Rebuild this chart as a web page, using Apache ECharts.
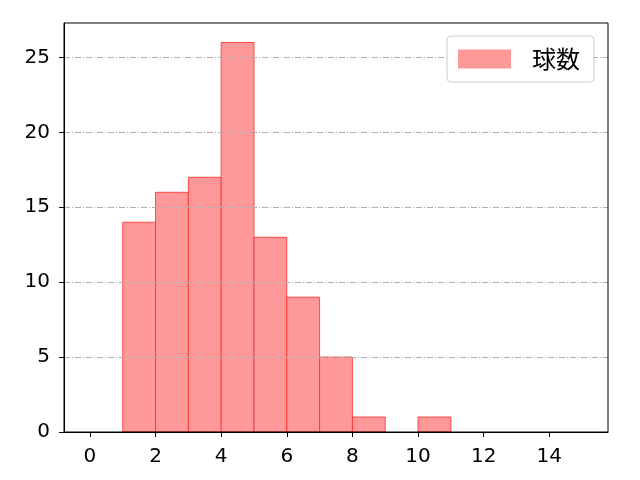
<!DOCTYPE html>
<html><head><meta charset="utf-8">
<script src="https://cdn.jsdelivr.net/npm/echarts@6/dist/echarts.min.js"></script>
<style>html,body{margin:0;padding:0;background:#fff}#c{width:640px;height:480px}</style>
</head><body><div id="c"></div>
<script>
const binStarts = [1, 2, 3, 4, 5, 6, 7, 8, 9, 10];
const counts = [14, 16, 17, 26, 13, 9, 5, 1, 0, 1];
const binWidth = 1;
const xTicks = [0, 2, 4, 6, 8, 10, 12, 14];
const yTicks = [0, 5, 10, 15, 20, 25];
const seriesName = '球数';

const tickFont = '"DejaVu Sans", sans-serif';
const cjkFont = '"Noto Sans CJK JP", "DejaVu Sans", sans-serif';
const chart = echarts.init(document.getElementById('c'));
const data = binStarts.map((s, i) => [s, counts[i]]);
chart.setOption({
  animation: false,
  grid: {left: 64, right: 32, top: 23, bottom: 48, show: true, borderColor: '#000', borderWidth: 1, backgroundColor: 'transparent', z: 6},
  legend: {
    data: [seriesName], left: 447, top: 36, orient: 'vertical',
    backgroundColor: '#fff', borderColor: '#cccccc', borderWidth: 1, borderRadius: 4,
    padding: [11, 14, 11, 11], itemWidth: 53, itemHeight: 19, itemGap: 8,
    icon: 'rect',
    textStyle: {fontSize: 24, color: '#000', fontFamily: cjkFont, padding: [0, 0, 0, 16]}, z: 10
  },
  xAxis: {
    type: 'value', min: -0.79, max: 15.79, z: 5,
    axisLine: {show: true, onZero: false, lineStyle: {color: '#000', width: 1}},
    axisTick: {show: true, length: 5, customValues: xTicks, lineStyle: {color: '#000'}},
    axisLabel: {customValues: xTicks, fontSize: 20, color: '#000', fontFamily: tickFont, margin: 15},
    splitLine: {show: false}
  },
  yAxis: {
    type: 'value', min: 0, max: 27.3, interval: 5, z: 4,
    axisLine: {show: true, onZero: false, lineStyle: {color: '#000', width: 1}},
    axisTick: {show: true, length: 5, customValues: yTicks, lineStyle: {color: '#000'}},
    axisLabel: {customValues: yTicks, fontSize: 20, color: '#000', fontFamily: tickFont, margin: 14},
    splitLine: {show: true, lineStyle: {color: '#b0b0b0', width: 1, type: [6, 2, 1, 2]}}
  },
  series: [{
    name: seriesName, type: 'custom', z: 2,
    itemStyle: {color: '#ff9999', borderColor: 'rgba(255,40,40,0.8)'},
    data: data,
    renderItem: function (params, api) {
      const x = api.value(0), y = api.value(1);
      if (y <= 0) return null;
      const p1 = api.coord([x, y]);
      const p0 = api.coord([x + binWidth, 0]);
      return {
        type: 'rect',
        shape: {x: p1[0], y: p1[1], width: p0[0] - p1[0], height: p0[1] - p1[1]},
        style: {fill: '#ff9999', stroke: 'rgba(255,40,40,0.8)', lineWidth: 1}
      };
    }
  }]
});
</script></body></html>
